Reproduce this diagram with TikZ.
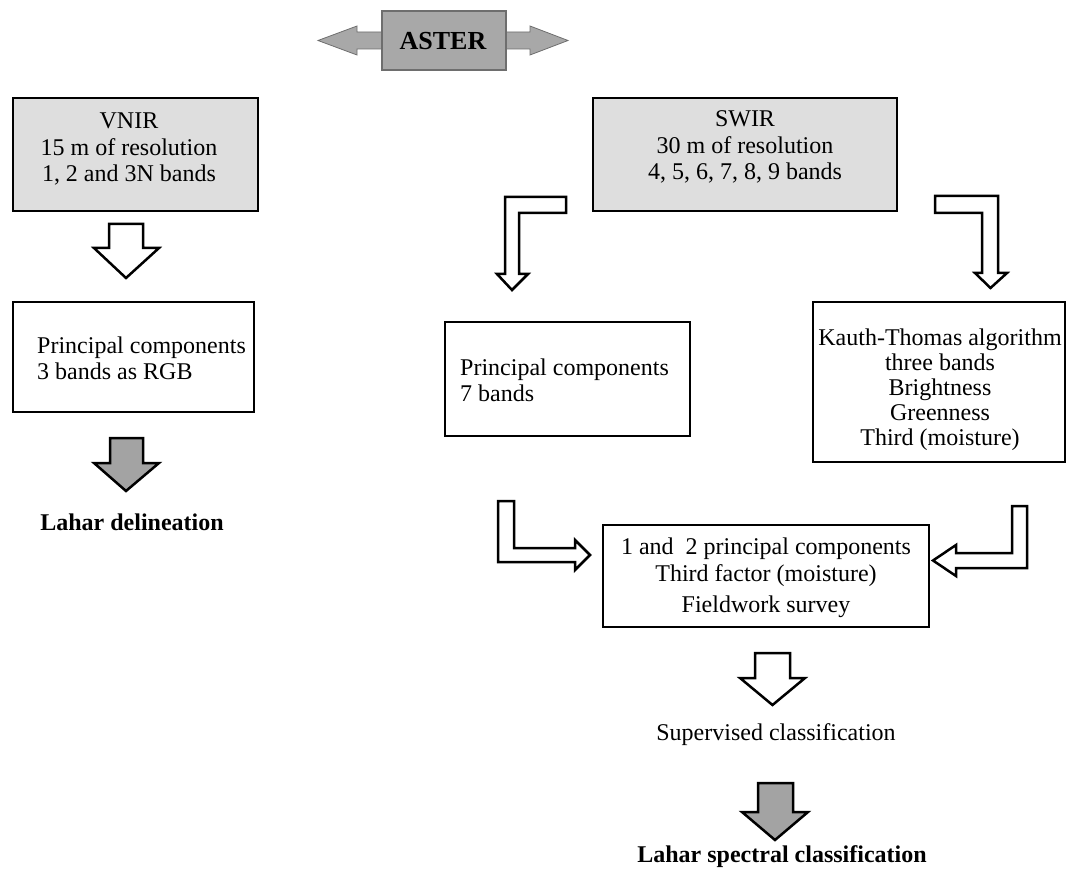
\documentclass[tikz,border=0pt]{standalone}
\usepackage{fontspec}
\setmainfont{Liberation Serif}
\definecolor{boxgray}{HTML}{DEDEDE}
\definecolor{astergray}{HTML}{A8A8A8}
\definecolor{astredge}{HTML}{6E6E6E}
\definecolor{arrgray}{HTML}{A3A3A3}
\begin{document}
\begin{tikzpicture}[x=1pt,y=-1pt,
  box/.style={draw=black, line width=2.4pt, rectangle, inner sep=0pt},
  txt/.style={inner sep=0pt, align=center, font=\fontsize{24}{26.5}\selectfont},
  ltxt/.style={inner sep=0pt, align=left, anchor=west, font=\fontsize{24}{26}\selectfont},
  btxt/.style={inner sep=0pt, font=\fontsize{24}{26.5}\selectfont\bfseries},
  blockarrow/.style={draw=black, line width=2.5pt, fill=white, line join=miter},
  grayarrow/.style={draw=black, line width=2.5pt, fill=arrgray, line join=miter}]
\useasboundingbox (0,0) rectangle (1066,869);

% ASTER
\draw[fill=astergray, draw=astredge, line width=0.8pt]
  (318,40.5) -- (357,26) -- (357,32) -- (530,32) -- (530,26) -- (568,40.5)
  -- (530,55) -- (530,49) -- (357,49) -- (357,55) -- cycle;
\node[draw=astredge, fill=astergray, line width=1.2pt, minimum width=124pt, minimum height=59pt, inner sep=0pt] (aster) at (444,40.5) {};
\node[btxt, font=\fontsize{26}{28}\selectfont\bfseries] (astert) at (443,41) {ASTER};

% VNIR
\node[box, fill=boxgray, minimum width=245pt, minimum height=113pt] (vnir) at (135.5,154.5) {};
\node[txt] (vnirt) at (129,149) {VNIR\\15 m of resolution\\1, 2 and 3N bands};

% white arrow VNIR -> PC3
\draw[blockarrow] (109,224) -- (143,224) -- (143,248) -- (159,248) -- (126,278) -- (94,248) -- (109,248) -- cycle;

% PC3
\node[box, minimum width=241pt, minimum height=110pt] (pc3) at (133.5,357) {};
\node[ltxt] (pc3t) at (37,358) {Principal components\\3 bands as RGB};

% gray arrow
\draw[grayarrow] (110,438) -- (143,438) -- (143,463) -- (159,463) -- (126,491) -- (94,463) -- (110,463) -- cycle;
\node[btxt] (lahar1) at (132,522) {Lahar delineation};

% SWIR
\node[box, fill=boxgray, minimum width=304pt, minimum height=113pt] (swir) at (745,154.5) {};
\node[txt] (swirt) at (745,147) {SWIR\\30 m of resolution\\4, 5, 6, 7, 8, 9 bands};

% L arrows from SWIR
\draw[blockarrow] (566,197) -- (505,197) -- (505,274) -- (497,274) -- (512,290) -- (528,274) -- (519,274) -- (519,213) -- (566,213) -- cycle;
\draw[blockarrow] (935,196) -- (998,196) -- (998,273) -- (1007,273) -- (990.5,288) -- (975,273) -- (982,273) -- (982,213) -- (935,213) -- cycle;

% PC7
\node[box, minimum width=245pt, minimum height=114pt] (pc7) at (567.5,379) {};
\node[ltxt] (pc7t) at (460,380) {Principal components\\7 bands};

% Kauth-Thomas
\node[box, minimum width=252pt, minimum height=160pt] (kt) at (939,382) {};
\node[txt, font=\fontsize{24}{25}\selectfont] (ktt) at (940,390) {Kauth-Thomas algorithm\\three bands\\Brightness\\Greenness\\Third (moisture)};

% L arrows to center box
\draw[blockarrow] (498,501) -- (514,501) -- (514,548) -- (575,548) -- (575,540) -- (590,555) -- (575,570) -- (575,562) -- (498,562) -- cycle;
\draw[blockarrow] (1027,506) -- (1012,506) -- (1012,553) -- (956,553) -- (956,545) -- (933,560.5) -- (956,576) -- (956,568) -- (1027,568) -- cycle;

% center box
\node[box, minimum width=326pt, minimum height=102pt] (cb) at (766,576) {};
\node[txt] (cbt) at (766,578) {1 and~~2 principal components\\Third factor (moisture)\\[5pt]Fieldwork survey};

% white arrow
\draw[blockarrow] (755,653) -- (790,653) -- (790,678) -- (805,678) -- (772.5,705) -- (740,678) -- (755,678) -- cycle;
\node[txt] (sup) at (776,735) {Supervised classification};

% gray arrow
\draw[grayarrow] (758,783) -- (793,783) -- (793,812) -- (808,812) -- (775,840) -- (742,812) -- (758,812) -- cycle;
\node[btxt] (lahar2) at (782,857) {Lahar spectral classification};
\end{tikzpicture}
\end{document}
